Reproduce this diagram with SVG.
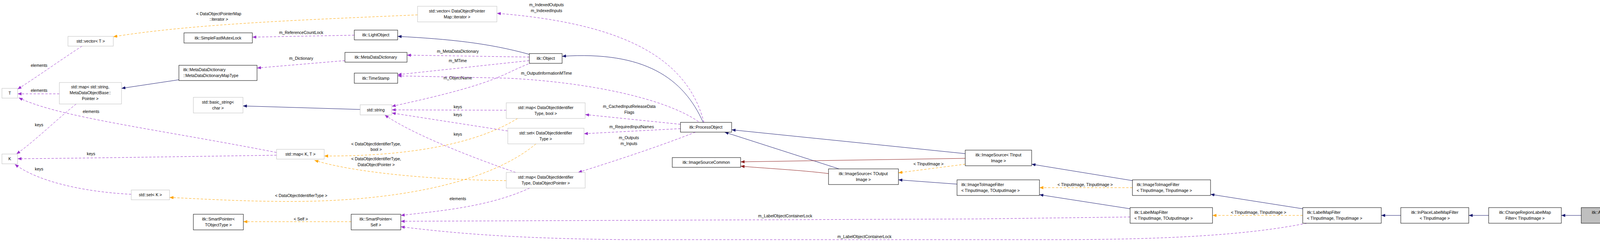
<svg xmlns="http://www.w3.org/2000/svg" width="4237" height="619" viewBox="0 0 4237 619">
<style>
text{font-family:"Liberation Sans",Arial,sans-serif;font-size:10.5px;fill:#000}
.n{fill:#fff;stroke:#000;stroke-width:1}
.g{fill:#fff;stroke:#bfbfbf;stroke-width:1}
.c{text-anchor:middle}
.e{fill:none;stroke-width:1}
.b{stroke:#191970}
.p{stroke:#9a32cd;stroke-dasharray:6,4}
.o{stroke:#ffa500;stroke-dasharray:6,4}
.r{stroke:#8b1a1a}
</style>
<defs>
<marker id="mb" markerWidth="11" markerHeight="8" refX="10" refY="4" orient="auto" markerUnits="userSpaceOnUse"><path d="M0,0L10,4L0,8z" fill="#191970"/></marker>
<marker id="mp" markerWidth="11" markerHeight="8" refX="10" refY="4" orient="auto" markerUnits="userSpaceOnUse"><path d="M0,0L10,4L0,8z" fill="#9a32cd"/></marker>
<marker id="mo" markerWidth="11" markerHeight="8" refX="10" refY="4" orient="auto" markerUnits="userSpaceOnUse"><path d="M0,0L10,4L0,8z" fill="#ffa500"/></marker>
<marker id="mr" markerWidth="11" markerHeight="8" refX="10" refY="4" orient="auto" markerUnits="userSpaceOnUse"><path d="M0,0L10,4L0,8z" fill="#8b1a1a"/></marker>
</defs>
<rect width="4237" height="619" fill="#fff"/>
<g id="edges">
<path class="e p" marker-end="url(#mp)" d="M210,118 C160,150 90,200 45,228"/>
<text class="c" x="100" y="171">elements</text>
<path class="e p" marker-end="url(#mp)" d="M152,240 L45,240"/>
<text class="c" x="100" y="235">elements</text>
<path class="e p" marker-end="url(#mp)" d="M708,390 C400,330 150,300 48,250"/>
<text class="c" x="233" y="289">elements</text>
<path class="e p" marker-end="url(#mp)" d="M195,266 C140,310 90,360 42,394"/>
<text class="c" x="100" y="323">keys</text>
<path class="e p" marker-end="url(#mp)" d="M708,397 C500,400 200,405 45,406"/>
<text class="c" x="233" y="397">keys</text>
<path class="e p" marker-end="url(#mp)" d="M336,497 C200,490 90,460 38,420"/>
<text class="c" x="100" y="436">keys</text>
<path class="e b" marker-end="url(#mb)" d="M458,204 L311,226"/>
<path class="e o" marker-end="url(#mo)" d="M1069,38 C800,50 500,60 290,94"/>
<text class="c" x="560" y="39">&lt; DataObjectPointerMap</text>
<text class="c" x="560" y="53">::iterator &gt;</text>
<path class="e p" marker-end="url(#mp)" d="M907,90 L646,95"/>
<text class="c" x="771" y="87">m_ReferenceCountLock</text>
<path class="e p" marker-end="url(#mp)" d="M883,155 L658,174"/>
<text class="c" x="771" y="153">m_Dictionary</text>
<path class="e b" marker-end="url(#mb)" d="M922,280 L622,271"/>
<path class="e b" marker-end="url(#mb)" d="M1355,139 C1250,110 1150,100 1018,93"/>
<path class="e p" marker-end="url(#mp)" d="M1355,146 L1042,141"/>
<text class="c" x="1172" y="135">m_MetaDataDictionary</text>
<path class="e p" marker-end="url(#mp)" d="M1355,155 L1018,191"/>
<text class="c" x="1172" y="159">m_MTime</text>
<path class="e p" marker-end="url(#mp)" d="M1362,160 C1280,190 1290,210 1003,272"/>
<text class="c" x="1172" y="203">m_ObjectName</text>
<path class="e p" marker-end="url(#mp)" d="M1788,311 C1700,250 1500,210 1300,200 L1018,194"/>
<text class="c" x="1399" y="191">m_OutputInformationMTime</text>
<path class="e b" marker-end="url(#mb)" d="M1800,313 C1750,200 1650,130 1439,144"/>
<path class="e p" marker-end="url(#mp)" d="M1802,313 C1760,150 1600,60 1272,34"/>
<text class="c" x="1399" y="16">m_IndexedOutputs</text>
<text class="c" x="1399" y="31">m_IndexedInputs</text>
<path class="e p" marker-end="url(#mp)" d="M1742,318 L1498,293"/>
<text class="c" x="1611" y="276">m_CachedInputReleaseData</text>
<text class="c" x="1611" y="291">Flags</text>
<path class="e p" marker-end="url(#mp)" d="M1742,329 L1495,342"/>
<text class="c" x="1617" y="328">m_RequiredInputNames</text>
<path class="e p" marker-end="url(#mp)" d="M1780,338 C1700,370 1580,410 1480,441"/>
<text class="c" x="1610" y="356">m_Outputs</text>
<text class="c" x="1610" y="371">m_Inputs</text>
<path class="e p" marker-end="url(#mp)" d="M1296,282 L1003,281"/>
<text class="c" x="1172" y="277">keys</text>
<path class="e p" marker-end="url(#mp)" d="M1300,335 L1003,289"/>
<text class="c" x="1172" y="297">keys</text>
<path class="e p" marker-end="url(#mp)" d="M1320,441 C1200,400 1050,340 985,294"/>
<text class="c" x="1172" y="347">keys</text>
<path class="e o" marker-end="url(#mo)" d="M1325,303 C1200,380 1000,400 830,399"/>
<text class="c" x="963" y="372">&lt; DataObjectIdentifierType,</text>
<text class="c" x="963" y="386">bool &gt;</text>
<path class="e o" marker-end="url(#mo)" d="M1296,462 C1100,460 900,440 805,410"/>
<text class="c" x="963" y="410">&lt; DataObjectIdentifierType,</text>
<text class="c" x="963" y="425">DataObjectPointer &gt;</text>
<path class="e o" marker-end="url(#mo)" d="M1372,368 C1250,470 1000,520 700,515 C600,514 500,508 434,505"/>
<text class="c" x="771" y="504">&lt; DataObjectIdentifierType &gt;</text>
<path class="e p" marker-end="url(#mp)" d="M1356,481 C1250,530 1120,540 1026,551"/>
<text class="c" x="1172" y="512">elements</text>
<path class="e o" marker-end="url(#mo)" d="M899,567 L623,567"/>
<text class="c" x="770" y="564">&lt; Self &gt;</text>
<path class="e p" marker-end="url(#mp)" d="M2893,555 L2500,560 L1026,566"/>
<text class="c" x="2010" y="556">m_LabelObjectContainerLock</text>
<path class="e p" marker-end="url(#mp)" d="M3345,571 C3200,600 3000,613 2700,613 L1600,613 C1300,610 1150,595 1026,580"/>
<text class="c" x="2213" y="609">m_LabelObjectContainerLock</text>
<path class="e b" marker-end="url(#mb)" d="M2471,393 L1873,332"/>
<path class="e b" marker-end="url(#mb)" d="M2148,432 L1855,338"/>
<path class="e r" marker-end="url(#mr)" d="M2471,405 L1896,414"/>
<path class="e r" marker-end="url(#mr)" d="M2121,444 C2050,435 1950,430 1896,425"/>
<path class="e o" marker-end="url(#mo)" d="M2471,420 L2300,442"/>
<text class="c" x="2377" y="423">&lt; TInputImage &gt;</text>
<path class="e b" marker-end="url(#mb)" d="M2450,471 L2300,460"/>
<path class="e b" marker-end="url(#mb)" d="M2899,462 L2641,420"/>
<path class="e o" marker-end="url(#mo)" d="M2899,480 L2661,480"/>
<text class="c" x="2778" y="476">&lt; TInputImage, TInputImage &gt;</text>
<path class="e b" marker-end="url(#mb)" d="M2893,534 L2661,498"/>
<path class="e b" marker-end="url(#mb)" d="M3335,534 L3099,497"/>
<path class="e o" marker-end="url(#mo)" d="M3335,551 L3104,551"/>
<text class="c" x="3222" y="547">&lt; TInputImage, TInputImage &gt;</text>
<path class="e b" marker-end="url(#mb)" d="M3586,551 L3536,551"/>
<path class="e b" marker-end="url(#mb)" d="M3811,551 L3760,551"/>
<path class="e b" marker-end="url(#mb)" d="M4048,551 L3997,551"/>
</g>
<g id="n_T"><rect class="g" x="5" y="226" width="40" height="25"/><text class="c" x="25" y="242">T</text></g>
<g id="n_K"><rect class="g" x="5" y="394" width="40" height="25"/><text class="c" x="25" y="410">K</text></g>
<g id="n_vecT"><rect class="g" x="174" y="93" width="116" height="25"/><text class="c" x="232" y="109">std::vector&lt; T &gt;</text></g>
<g id="n_mapStr"><rect class="g" x="152" y="211" width="159" height="55"/><text class="c" x="231" y="226">std::map&lt; std::string,</text><text class="c" x="231" y="241">MetaDataObjectBase::</text><text class="c" x="231" y="256">Pointer &gt;</text></g>
<g id="n_setK"><rect class="g" x="336" y="486" width="98" height="25"/><text class="c" x="385" y="502">std::set&lt; K &gt;</text></g>
<g id="n_mutex"><rect class="n" x="471" y="84" width="175" height="26"/><text class="c" x="558" y="101">itk::SimpleFastMutexLock</text></g>
<g id="n_mdmt"><rect class="n" x="458" y="167" width="200" height="39"/><text x="469" y="182">itk::MetaDataDictionary</text><text x="469" y="197">::MetaDataDictionaryMapType</text></g>
<g id="n_bstr"><rect class="g" x="495" y="249" width="127" height="40"/><text class="c" x="558" y="265">std::basic_string&lt;</text><text class="c" x="558" y="280">char &gt;</text></g>
<g id="n_spT"><rect class="n" x="495" y="548" width="128" height="40"/><text class="c" x="559" y="564">itk::SmartPointer&lt;</text><text class="c" x="559" y="579">TObjectType &gt;</text></g>
<g id="n_mapKT"><rect class="g" x="708" y="382" width="122" height="25"/><text class="c" x="769" y="398">std::map&lt; K, T &gt;</text></g>
<g id="n_light"><rect class="n" x="907" y="77" width="111" height="25"/><text class="c" x="962" y="93">itk::LightObject</text></g>
<g id="n_mdd"><rect class="n" x="883" y="134" width="159" height="25"/><text class="c" x="962" y="150">itk::MetaDataDictionary</text></g>
<g id="n_ts"><rect class="n" x="907" y="187" width="111" height="26"/><text class="c" x="962" y="204">itk::TimeStamp</text></g>
<g id="n_str"><rect class="g" x="922" y="268" width="81" height="26"/><text class="c" x="962" y="285">std::string</text></g>
<g id="n_spS"><rect class="n" x="899" y="548" width="127" height="40"/><text class="c" x="962" y="564">itk::SmartPointer&lt;</text><text class="c" x="962" y="579">Self &gt;</text></g>
<g id="n_vecDOP"><rect class="g" x="1069" y="16" width="203" height="40"/><text class="c" x="1170" y="32">std::vector&lt; DataObjectPointer</text><text class="c" x="1170" y="47">Map::iterator &gt;</text></g>
<g id="n_obj"><rect class="n" x="1355" y="137" width="84" height="25"/><text class="c" x="1397" y="153">itk::Object</text></g>
<g id="n_mapB"><rect class="g" x="1296" y="263" width="202" height="40"/><text class="c" x="1397" y="279">std::map&lt; DataObjectIdentifier</text><text class="c" x="1397" y="294">Type, bool &gt;</text></g>
<g id="n_setD"><rect class="g" x="1300" y="328" width="195" height="40"/><text class="c" x="1397" y="344">std::set&lt; DataObjectIdentifier</text><text class="c" x="1397" y="359">Type &gt;</text></g>
<g id="n_mapP"><rect class="g" x="1296" y="441" width="202" height="40"/><text class="c" x="1397" y="457">std::map&lt; DataObjectIdentifier</text><text class="c" x="1397" y="472">Type, DataObjectPointer &gt;</text></g>
<g id="n_po"><rect class="n" x="1742" y="313" width="131" height="25"/><text class="c" x="1807" y="329">itk::ProcessObject</text></g>
<g id="n_isc"><rect class="n" x="1721" y="403" width="175" height="25"/><text class="c" x="1808" y="419">itk::ImageSourceCommon</text></g>
<g id="n_isO"><rect class="n" x="2121" y="432" width="179" height="40"/><text class="c" x="2210" y="448">itk::ImageSource&lt; TOutput</text><text class="c" x="2210" y="463">Image &gt;</text></g>
<g id="n_isI"><rect class="n" x="2471" y="384" width="170" height="40"/><text class="c" x="2556" y="400">itk::ImageSource&lt; TInput</text><text class="c" x="2556" y="415">Image &gt;</text></g>
<g id="n_itiO"><rect class="n" x="2450" y="460" width="211" height="40"/><text x="2461" y="476">itk::ImageToImageFilter</text><text x="2461" y="491">&lt; TInputImage, TOutputImage &gt;</text></g>
<g id="n_itiI"><rect class="n" x="2899" y="460" width="200" height="40"/><text x="2910" y="476">itk::ImageToImageFilter</text><text x="2910" y="491">&lt; TInputImage, TInputImage &gt;</text></g>
<g id="n_lmO"><rect class="n" x="2893" y="531" width="211" height="40"/><text x="2904" y="547">itk::LabelMapFilter</text><text x="2904" y="562">&lt; TInputImage, TOutputImage &gt;</text></g>
<g id="n_lmI"><rect class="n" x="3335" y="531" width="201" height="40"/><text x="3346" y="547">itk::LabelMapFilter</text><text x="3346" y="562">&lt; TInputImage, TInputImage &gt;</text></g>
<g id="n_ip"><rect class="n" x="3586" y="531" width="174" height="40"/><text class="c" x="3673" y="547">itk::InPlaceLabelMapFilter</text><text class="c" x="3673" y="562">&lt; TInputImage &gt;</text></g>
<g id="n_cr"><rect class="n" x="3811" y="531" width="186" height="40"/><text class="c" x="3904" y="547">itk::ChangeRegionLabelMap</text><text class="c" x="3904" y="562">Filter&lt; TInputImage &gt;</text></g>
<g id="n_ac"><rect x="4048" y="531" width="184" height="40" fill="#bfbfbf" stroke="#000"/><text class="c" x="4140" y="547">itk::AutoCropLabelMapFilter</text><text class="c" x="4140" y="562">&lt; TInputImage &gt;</text></g>
</svg>
